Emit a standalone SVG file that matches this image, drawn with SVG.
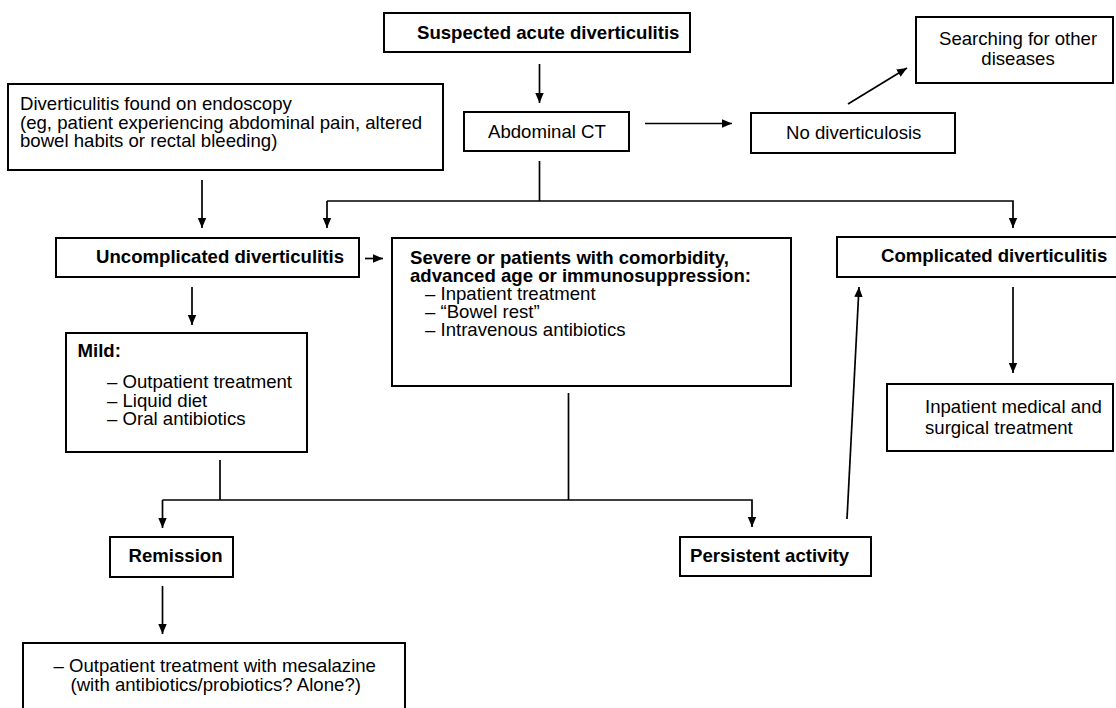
<svg xmlns="http://www.w3.org/2000/svg" width="1116" height="708" viewBox="0 0 1116 708">
<style>
.box{fill:#fff;stroke:#000;stroke-width:2}
.t{font-family:"Liberation Sans",Arial,Helvetica,sans-serif;font-size:18.6px;fill:#000}
.b{font-weight:bold}
.c{fill:none;stroke:#000;stroke-width:1.7}
</style>
<defs>
<marker id="ah" markerUnits="userSpaceOnUse" markerWidth="10" markerHeight="10" viewBox="0 0 10 10" refX="10" refY="5" orient="auto">
<path d="M0,0.8 L10,5 L0,9.2 z" fill="#000"/>
</marker>
</defs>
<rect x="0" y="0" width="1116" height="708" fill="#fff"/>
<g id="connectors">
<line class="c" x1="539.5" y1="64" x2="539.5" y2="103" marker-end="url(#ah)"/>
<line class="c" x1="645" y1="123.5" x2="732" y2="123.5" marker-end="url(#ah)"/>
<line class="c" x1="848" y1="104" x2="907" y2="68" marker-end="url(#ah)"/>
<line class="c" x1="202" y1="180" x2="202" y2="228" marker-end="url(#ah)"/>
<polyline class="c" points="539.5,161 539.5,201"/>
<polyline class="c" points="327,201 1013,201 1013,228" marker-end="url(#ah)"/>
<line class="c" x1="327" y1="201" x2="327" y2="228" marker-end="url(#ah)"/>
<line class="c" x1="365" y1="258.5" x2="383" y2="258.5" marker-end="url(#ah)"/>
<line class="c" x1="192" y1="287" x2="192" y2="325" marker-end="url(#ah)"/>
<line class="c" x1="220" y1="460" x2="220" y2="500"/>
<line class="c" x1="568.5" y1="393" x2="568.5" y2="500"/>
<polyline class="c" points="162.5,500 752,500 752,527" marker-end="url(#ah)"/>
<line class="c" x1="162.5" y1="500" x2="162.5" y2="528" marker-end="url(#ah)"/>
<line class="c" x1="162.5" y1="586" x2="162.5" y2="634" marker-end="url(#ah)"/>
<line class="c" x1="847" y1="519" x2="859" y2="287" marker-end="url(#ah)"/>
<line class="c" x1="1013" y1="287" x2="1013" y2="373" marker-end="url(#ah)"/>
</g>
<g id="suspected">
<rect class="box" x="384" y="13" width="306" height="39"/>
<text class="t b" x="417" y="39">Suspected acute diverticulitis</text>
</g>
<g id="abdominal-ct">
<rect class="box" x="464" y="112" width="165" height="39"/>
<text class="t" x="488" y="138">Abdominal CT</text>
</g>
<g id="no-diverticulosis">
<rect class="box" x="751" y="113" width="204" height="40"/>
<text class="t" x="786" y="139">No diverticulosis</text>
</g>
<g id="searching">
<rect class="box" x="916" y="17" width="197" height="66"/>
<text class="t" x="939" y="45">Searching for other</text>
<text class="t" x="1018" y="65" text-anchor="middle">diseases</text>
</g>
<g id="endoscopy">
<rect class="box" x="8" y="84" width="435" height="86"/>
<text class="t" x="20" y="110">Diverticulitis found on endoscopy</text>
<text class="t" x="20" y="128.5">(eg, patient experiencing abdominal pain, altered</text>
<text class="t" x="20" y="147">bowel habits or rectal bleeding)</text>
</g>
<g id="uncomplicated">
<rect class="box" x="56" y="238" width="303" height="39"/>
<text class="t b" x="96" y="262.5">Uncomplicated diverticulitis</text>
</g>
<g id="severe">
<rect class="box" x="392" y="238" width="399" height="148"/>
<text class="t b" x="410" y="264">Severe or patients with comorbidity,</text>
<text class="t b" x="410" y="282">advanced age or immunosuppression:</text>
<text class="t" x="425" y="300">– Inpatient treatment</text>
<text class="t" x="425" y="318">– “Bowel rest”</text>
<text class="t" x="425" y="336">– Intravenous antibiotics</text>
</g>
<g id="complicated">
<rect class="box" x="837" y="237" width="282" height="40"/>
<text class="t b" x="881" y="262">Complicated diverticulitis</text>
</g>
<g id="mild">
<rect class="box" x="66" y="333" width="241" height="119"/>
<text class="t b" x="77.5" y="357">Mild:</text>
<text class="t" x="107" y="388">– Outpatient treatment</text>
<text class="t" x="107" y="406.5">– Liquid diet</text>
<text class="t" x="107" y="425">– Oral antibiotics</text>
</g>
<g id="inpatient">
<rect class="box" x="887" y="384" width="226" height="67"/>
<text class="t" x="925" y="412.5">Inpatient medical and</text>
<text class="t" x="925" y="434">surgical treatment</text>
</g>
<g id="remission">
<rect class="box" x="110" y="537" width="123" height="40"/>
<text class="t b" x="128.5" y="561.5">Remission</text>
</g>
<g id="persistent">
<rect class="box" x="680" y="537" width="191" height="39"/>
<text class="t b" x="690" y="561.5">Persistent activity</text>
</g>
<g id="outpatient-mesalazine">
<rect class="box" x="23" y="643" width="382" height="80"/>
<text class="t" x="53.5" y="672">– Outpatient treatment with mesalazine</text>
<text class="t" x="70.5" y="691">(with antibiotics/probiotics? Alone?)</text>
</g>
</svg>
